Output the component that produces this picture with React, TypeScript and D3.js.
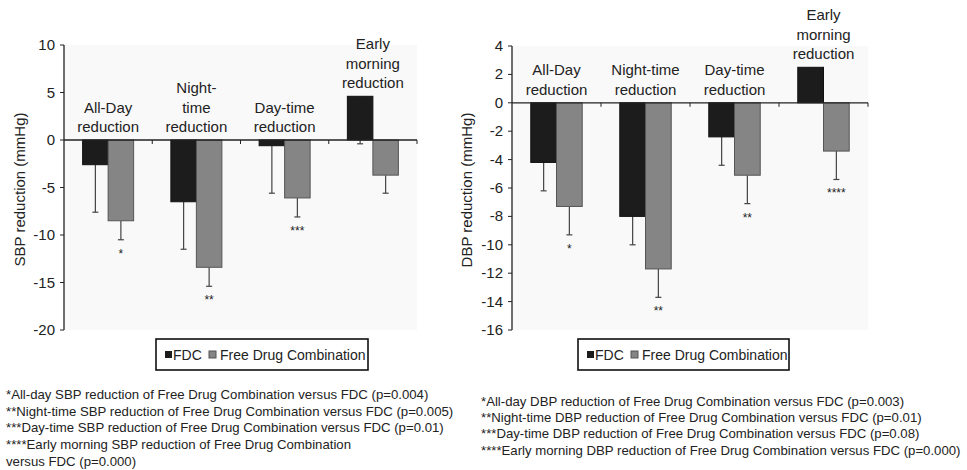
import React from 'react';
import * as d3 from 'd3';

const categories = ['allDay', 'night', 'day', 'early'];
const seriesNames = ['FDC', 'Free Drug Combination'];

// SBP panel (left)
const sbpLabels = [['All-Day', 'reduction'], ['Night-', 'time', 'reduction'], ['Day-time', 'reduction'], ['Early', 'morning', 'reduction']];
const sbpFdc = [-2.6, -6.5, -0.6, 4.6];
const sbpFdcErr = [-7.6, -11.5, -5.6, -0.4];
const sbpFree = [-8.5, -13.4, -6.1, -3.7];
const sbpFreeErr = [-10.5, -15.4, -8.1, -5.6];
const sbpStars = ['*', '**', '***', ''];
const sbpTicks = [10, 5, 0, -5, -10, -15, -20];
const sbpNotes = [
  '*All-day SBP reduction of Free Drug Combination versus FDC (p=0.004)',
  '**Night-time SBP reduction of Free Drug Combination versus FDC (p=0.005)',
  '***Day-time SBP reduction of Free Drug Combination versus FDC (p=0.01)',
  '****Early morning SBP reduction of Free Drug Combination',
  'versus FDC (p=0.000)',
];

// DBP panel (right)
const dbpLabels = [['All-Day', 'reduction'], ['Night-time', 'reduction'], ['Day-time', 'reduction'], ['Early', 'morning', 'reduction']];
const dbpFdc = [-4.2, -8.0, -2.4, 2.5];
const dbpFdcErr = [-6.2, -10.0, -4.4, 0.5];
const dbpFree = [-7.3, -11.7, -5.1, -3.4];
const dbpFreeErr = [-9.3, -13.7, -7.1, -5.4];
const dbpStars = ['*', '**', '**', '****'];
const dbpTicks = [4, 2, 0, -2, -4, -6, -8, -10, -12, -14, -16];
const dbpNotes = [
  '*All-day DBP reduction of Free Drug Combination versus FDC (p=0.003)',
  '**Night-time DBP reduction of Free Drug Combination versus FDC (p=0.01)',
  '***Day-time DBP reduction of Free Drug Combination versus FDC (p=0.08)',
  '****Early morning DBP reduction of Free Drug Combination versus FDC (p=0.000)',
];

const FONT = 'Liberation Sans, Arial, sans-serif';
const BLACK = '#1c1c1c';
const GREY = '#858585';

type PanelProps = {
  left: number; right: number; top: number; bottom: number;
  domain: [number, number]; ticks: number[];
  labels: string[][]; fdc: number[]; fdcErr: number[]; free: number[]; freeErr: number[];
  stars: string[]; yTitle: string; titleX: number;
  legendX: number; legendW: number;
  notes: string[]; notesX: number; notesY: number; notesStep: number;
};

const Panel = (p: PanelProps) => {
  const y = d3.scaleLinear().domain(p.domain).range([p.bottom, p.top]);
  const x = d3.scaleBand().domain(categories).range([p.left, p.right]);
  const inner = d3.scaleBand().domain(seriesNames).range([0, x.bandwidth()]).paddingOuter(0.73);
  const bw = inner.bandwidth();
  const y0 = y(0);

  return (
    <g fontFamily={FONT}>
      <rect x={p.left} y={p.top} width={p.right - p.left} height={p.bottom - p.top} fill="#f9f9f9" />
      {categories.map((c, i) => {
        const bx = x(c)!;
        const xa = bx + inner(seriesNames[0])!;
        const xb = bx + inner(seriesNames[1])!;
        const vals = [p.fdc[i], p.free[i]];
        const errs = [p.fdcErr[i], p.freeErr[i]];
        const xs = [xa, xb];
        const top = y(Math.max(0, p.fdc[i], p.free[i]));
        const lines = p.labels[i];
        return (
          <g key={c}>
            {xs.map((xx, k) => (
              <g key={k}>
                <line x1={xx + bw / 2} x2={xx + bw / 2} y1={y(vals[k])} y2={y(errs[k])} stroke="#444" strokeWidth={1.2} />
                <line x1={xx + bw / 2 - 3} x2={xx + bw / 2 + 3} y1={y(errs[k])} y2={y(errs[k])} stroke="#444" strokeWidth={1.2} />
              </g>
            ))}
            {xs.map((xx, k) => (
              <rect key={'b' + k} x={xx} width={bw}
                y={Math.min(y(vals[k]), y0)} height={Math.abs(y(vals[k]) - y0)}
                fill={k === 0 ? BLACK : GREY} stroke={k === 0 ? '#111' : '#555'} strokeWidth={1} />
            ))}
            {p.stars[i] && (
              <text x={xb + bw / 2} y={y(p.freeErr[i]) + 18} textAnchor="middle" fontSize={12} fill="#222">{p.stars[i]}</text>
            )}
            <text textAnchor="middle" fontSize={15} fill="#222">
              {lines.map((l, j) => (
                <tspan key={j} x={bx + x.bandwidth() / 2} y={top - 8 - (lines.length - 1 - j) * 19.5}>{l}</tspan>
              ))}
            </text>
            <line x1={bx + x.bandwidth()} x2={bx + x.bandwidth()} y1={y0} y2={y0 + 4} stroke="#222" />
          </g>
        );
      })}
      <line x1={p.left} x2={p.right} y1={y0} y2={y0} stroke="#222" strokeWidth={1.3} />
      <line x1={p.left} x2={p.left} y1={p.top} y2={p.bottom} stroke="#222" strokeWidth={1.3} />
      {p.ticks.map(t => (
        <g key={t}>
          <line x1={p.left - 4} x2={p.left} y1={y(t)} y2={y(t)} stroke="#222" />
          <text x={p.left - 9} y={y(t) + 5} textAnchor="end" fontSize={15} fill="#222">{t}</text>
        </g>
      ))}
      <text transform={`translate(${p.titleX},${(p.top + p.bottom) / 2 + 2}) rotate(-90)`} textAnchor="middle" fontSize={15} fill="#222">{p.yTitle}</text>
      <g transform={`translate(${p.legendX},339)`}>
        <rect x={0} y={0} width={p.legendW} height={31} fill="#fff" stroke="#111" strokeWidth={1.6} />
        <rect x={9} y={12} width={7} height={7} fill={BLACK} />
        <text x={17} y={21} fontSize={14} fill="#222">{seriesNames[0]}</text>
        <rect x={53} y={12} width={7} height={7} fill={GREY} stroke="#555" strokeWidth={1} />
        <text x={64} y={21} fontSize={14} fill="#222">{seriesNames[1]}</text>
      </g>
      {p.notes.map((n, i) => (
        <text key={i} x={p.notesX} y={p.notesY + i * p.notesStep} fontSize={13.2} fill="#222">{n}</text>
      ))}
    </g>
  );
};

const App = () => (
  <svg width={967} height={470} style={{ position: 'absolute', left: 0, top: 0, background: '#fff' }}>
    <Panel left={64} right={417} top={45} bottom={330} domain={[-20, 10]} ticks={sbpTicks}
      labels={sbpLabels} fdc={sbpFdc} fdcErr={sbpFdcErr} free={sbpFree} freeErr={sbpFreeErr}
      stars={sbpStars} yTitle="SBP reduction (mmHg)" titleX={25}
      legendX={156} legendW={212} notes={sbpNotes} notesX={6} notesY={399} notesStep={16.7} />
    <Panel left={512} right={868} top={46} bottom={330} domain={[-16, 4]} ticks={dbpTicks}
      labels={dbpLabels} fdc={dbpFdc} fdcErr={dbpFdcErr} free={dbpFree} freeErr={dbpFreeErr}
      stars={dbpStars} yTitle="DBP reduction (mmHg)" titleX={472}
      legendX={578} legendW={211} notes={dbpNotes} notesX={481} notesY={406} notesStep={16.2} />
  </svg>
);

export default App;
